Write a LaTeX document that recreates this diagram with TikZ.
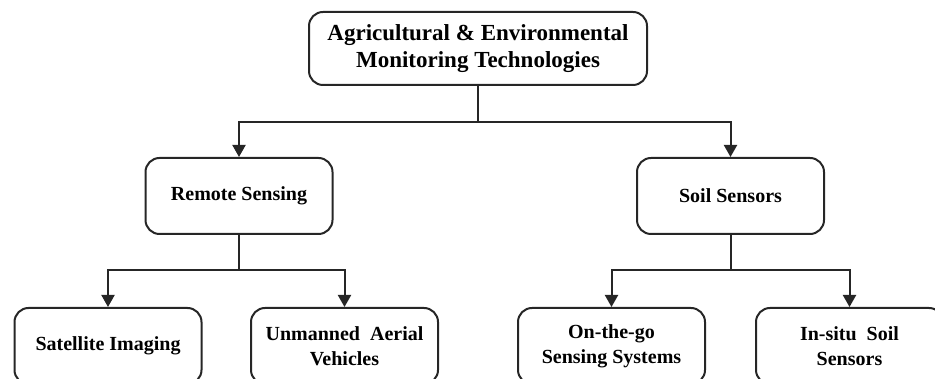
\documentclass[tikz,border=0pt]{standalone}
\usepackage{fontspec}
\setmainfont{Liberation Serif}
\usetikzlibrary{arrows.meta}

\tikzset{
  box/.style={draw=black!85,line width=1pt,rounded corners=7pt,align=center,
    font=\bfseries\fontsize{10}{12.5}\selectfont,minimum width=93.5pt,minimum height=38pt,inner sep=2pt},
  link/.style={draw=black!85,line width=1pt},
  arr/.style={link,-{Triangle[width=6.5pt,length=6pt]}}
}

\begin{document}
\begin{tikzpicture}[x=0.5pt,y=0.5pt]
\useasboundingbox (0,0) rectangle (935,379);
\clip (0,0) rectangle (935,379);

% Root
\node[box,minimum width=169pt,minimum height=36.5pt,font=\bfseries\fontsize{11.5}{13.5}\selectfont] (root) at (478,330.5)
  {Agricultural \& Environmental\\Monitoring Technologies};

% Second level
\node[box] (remote) at (239,183) {Remote Sensing};
\node[box] (soil) at (730.5,183) {Soil Sensors};

% Third level
\node[box] (sat) at (108,33) {Satellite Imaging};
\node[box] (uav) at (344.5,33) {Unmanned\ \ Aerial\\Vehicles};
\node[box] (otg) at (611.5,33) {On-the-go\\Sensing Systems};
\node[box] (insitu) at (849.5,33) {In-situ\ \ Soil\\Sensors};

% Branch points
\coordinate (forkA) at (478,257);
\coordinate (forkB) at (239,109);
\coordinate (forkC) at (730.5,109);

% Connectors
\draw[link] (root.south) -- (forkA);
\draw[arr] (forkA) -| (remote.north);
\draw[arr] (forkA) -| (soil.north);

\draw[link] (remote.south) -- (forkB);
\draw[arr] (forkB) -| (sat.north);
\draw[arr] (forkB) -| (uav.north);

\draw[link] (soil.south) -- (forkC);
\draw[arr] (forkC) -| (otg.north);
\draw[arr] (forkC) -| (insitu.north);
\end{tikzpicture}
\end{document}
